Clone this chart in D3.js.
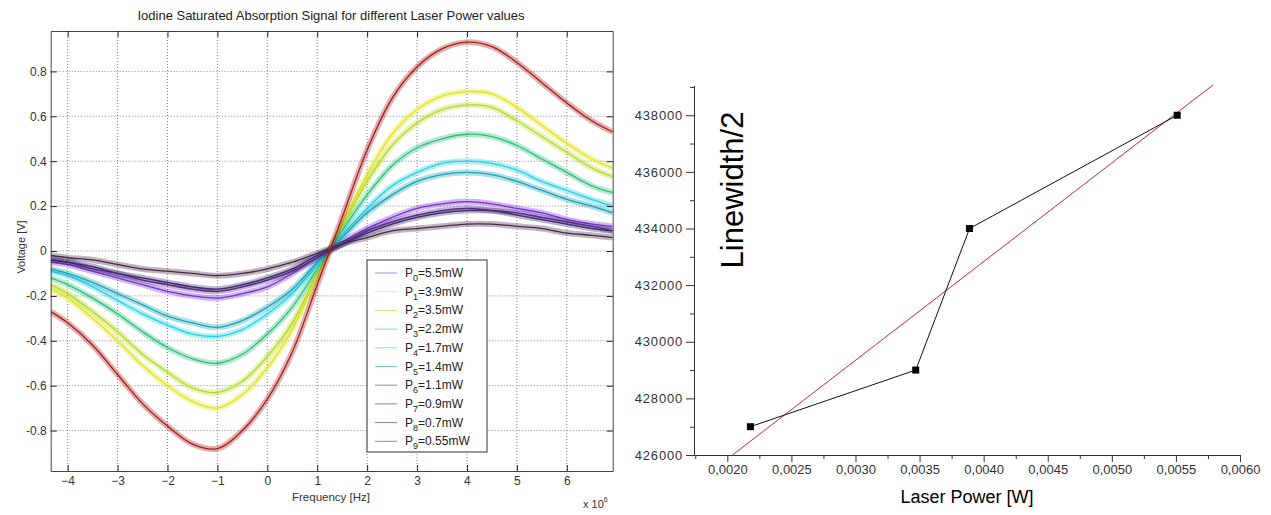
<!DOCTYPE html>
<html>
<head>
<meta charset="utf-8">
<script src="https://cdn.jsdelivr.net/npm/d3@7"></script>
<style>
  body { margin: 0; background: #fff; }
  text { font-family: "Liberation Sans", Arial, sans-serif; }
</style>
</head>
<body>
<div class="canvas"></div>
<script>
      // ---- left chart data ----
      const freq = [-4.34, -4, -3.5, -3, -2.5, -2, -1.5, -1, -0.5, 0, 0.5, 1, 1.5, 2, 2.5, 3, 3.5, 4, 4.5, 5, 5.5, 6, 6.5, 6.92];
      const p0 = [-0.05, -0.06, -0.09, -0.12, -0.15, -0.18, -0.20, -0.21, -0.19, -0.16, -0.10, -0.03, 0.04, 0.10, 0.15, 0.19, 0.21, 0.22, 0.21, 0.19, 0.17, 0.14, 0.12, 0.11];
      const p1 = [-0.17, -0.21, -0.30, -0.40, -0.51, -0.60, -0.67, -0.70, -0.64, -0.52, -0.35, -0.11, 0.12, 0.34, 0.52, 0.63, 0.69, 0.71, 0.70, 0.64, 0.56, 0.48, 0.41, 0.37];
      const p2 = [-0.15, -0.19, -0.27, -0.36, -0.46, -0.54, -0.61, -0.63, -0.58, -0.47, -0.32, -0.10, 0.11, 0.31, 0.47, 0.57, 0.63, 0.65, 0.64, 0.58, 0.51, 0.44, 0.37, 0.33];
      const p3 = [-0.12, -0.15, -0.21, -0.28, -0.36, -0.43, -0.48, -0.50, -0.46, -0.37, -0.25, -0.08, 0.09, 0.25, 0.38, 0.46, 0.50, 0.52, 0.51, 0.47, 0.41, 0.35, 0.29, 0.26];
      const p4 = [-0.09, -0.11, -0.16, -0.22, -0.28, -0.33, -0.37, -0.38, -0.35, -0.28, -0.19, -0.06, 0.07, 0.19, 0.29, 0.35, 0.39, 0.40, 0.39, 0.36, 0.31, 0.27, 0.23, 0.20];
      const p5 = [-0.08, -0.10, -0.14, -0.19, -0.24, -0.29, -0.32, -0.34, -0.31, -0.25, -0.17, -0.05, 0.06, 0.17, 0.25, 0.31, 0.34, 0.35, 0.34, 0.31, 0.27, 0.23, 0.20, 0.17];
      const p6 = [-0.04, -0.05, -0.08, -0.10, -0.13, -0.15, -0.17, -0.18, -0.16, -0.13, -0.09, -0.03, 0.03, 0.09, 0.13, 0.16, 0.18, 0.19, 0.18, 0.17, 0.15, 0.13, 0.11, 0.09];
      const p7 = [-0.02, -0.03, -0.04, -0.06, -0.08, -0.09, -0.10, -0.11, -0.10, -0.08, -0.05, -0.01, 0.03, 0.06, 0.09, 0.10, 0.11, 0.12, 0.12, 0.11, 0.10, 0.08, 0.07, 0.06];
      const p8 = [-0.04, -0.05, -0.07, -0.10, -0.12, -0.14, -0.16, -0.17, -0.15, -0.12, -0.08, -0.02, 0.03, 0.08, 0.12, 0.15, 0.17, 0.18, 0.18, 0.16, 0.14, 0.12, 0.10, 0.09];
      const p9 = [-0.27, -0.32, -0.42, -0.55, -0.68, -0.78, -0.86, -0.88, -0.80, -0.66, -0.45, -0.15, 0.15, 0.45, 0.68, 0.82, 0.90, 0.93, 0.91, 0.84, 0.75, 0.66, 0.58, 0.53];
      const legendLabels = ['5.5mW', '3.9mW', '3.5mW', '2.2mW', '1.7mW', '1.4mW', '1.1mW', '0.9mW', '0.7mW', '0.55mW'];
      const freqTicks = [-4, -3, -2, -1, 0, 1, 2, 3, 4, 5, 6];
      const voltTicks = [-0.8, -0.6, -0.4, -0.2, 0, 0.2, 0.4, 0.6, 0.8];

      // ---- right chart data ----
      const powerW = [0.00218, 0.00347, 0.00389, 0.00551];
      const halfWidth = [427000, 429000, 434000, 438000];
      const fitPower = [0.00204, 0.00579];
      const fitWidth = [426000, 439070];
      const powerTicks = [0.0020, 0.0025, 0.0030, 0.0035, 0.0040, 0.0045, 0.0050, 0.0055, 0.0060];
      const powerMinor = [0.00175, 0.00225, 0.00275, 0.00325, 0.00375, 0.00425, 0.00475, 0.00525, 0.00575];
      const widthTicks = [426000, 428000, 430000, 432000, 434000, 436000, 438000];
      const widthMinor = [427000, 429000, 431000, 433000, 435000, 437000, 439000];

      const series = [p0, p1, p2, p3, p4, p5, p6, p7, p8, p9];
      const colors = ['#7a2fd6', '#e3e31c', '#b3da22', '#2dbf7a', '#26d2e6', '#1aa3b6', '#5c2d8e', '#4a2a48', '#3e2c70', '#a81c1c'];

      const svg = d3.select('.canvas')
        .append('svg')
        .attr('width', 1271)
        .attr('height', 515)
        .style('background', '#fff');

      // ================= left chart =================
      const x = d3.scaleLinear().domain([-4.34, 6.92]).range([50.7, 612.7]);
      const y = d3.scaleLinear().domain([-0.98, 0.98]).range([471, 31]);

      const left = svg.append('g');

      // dotted grid
      left.selectAll('.vgrid')
        .data(freqTicks)
        .enter().append('line')
          .attr('x1', d => x(d)).attr('x2', d => x(d))
          .attr('y1', 31).attr('y2', 471)
          .attr('stroke', '#555').attr('stroke-width', 1)
          .attr('stroke-dasharray', '1,2').attr('opacity', 0.7);

      left.selectAll('.hgrid')
        .data(voltTicks)
        .enter().append('line')
          .attr('x1', 50.7).attr('x2', 612.7)
          .attr('y1', d => y(d)).attr('y2', d => y(d))
          .attr('stroke', '#555').attr('stroke-width', 1)
          .attr('stroke-dasharray', '1,2').attr('opacity', 0.7);

      left.append('clipPath').attr('id', 'clipL')
        .append('rect').attr('x', 50.7).attr('y', 31).attr('width', 562).attr('height', 440);

      const line = d3.line()
        .x((d, i) => x(freq[i]))
        .y(d => y(d))
        .curve(d3.curveCatmullRom);

      const traces = left.append('g').attr('clip-path', 'url(#clipL)');

      // noisy band + centre trace
      series.forEach((s, i) => {
        traces.append('path')
          .attr('d', line(s))
          .attr('fill', 'none')
          .attr('stroke', colors[i])
          .attr('stroke-width', 6)
          .attr('opacity', 0.35);
        traces.append('path')
          .attr('d', line(s))
          .attr('fill', 'none')
          .attr('stroke', colors[i])
          .attr('stroke-width', 1.3);
      });

      // axes (inner ticks, boxed)
      const axisStyle = g => {
        g.select('.domain').attr('stroke', '#444');
        g.selectAll('.tick line').attr('stroke', '#222');
        g.selectAll('text').attr('font-size', 12).attr('fill', '#333')
          .attr('font-family', '"Liberation Sans", Arial, sans-serif');
      };

      left.append('g')
        .attr('transform', 'translate(0,471)')
        .call(d3.axisBottom(x).tickValues(freqTicks).tickSizeInner(-6).tickSizeOuter(0).tickPadding(5))
        .call(axisStyle);

      left.append('g')
        .attr('transform', 'translate(0,31)')
        .call(d3.axisTop(x).tickValues(freqTicks).tickSizeInner(-6).tickSizeOuter(0).tickFormat(''))
        .call(axisStyle);

      left.append('g')
        .attr('transform', 'translate(50.7,0)')
        .call(d3.axisLeft(y).tickValues(voltTicks).tickSizeInner(-6).tickSizeOuter(0).tickPadding(4)
          .tickFormat(d => d === 0 ? '0' : d3.format('.1f')(d).replace('−', '-')))
        .call(axisStyle);

      left.append('g')
        .attr('transform', 'translate(612.7,0)')
        .call(d3.axisRight(y).tickValues(voltTicks).tickSizeInner(-6).tickSizeOuter(0).tickFormat(''))
        .call(axisStyle);

      // titles
      left.append('text')
        .attr('x', 331).attr('y', 20)
        .attr('text-anchor', 'middle')
        .attr('font-size', 13).attr('fill', '#222')
        .text('Iodine Saturated Absorption Signal for different Laser Power values');

      left.append('text')
        .attr('x', 331).attr('y', 501)
        .attr('text-anchor', 'middle')
        .attr('font-size', 11.5).attr('fill', '#333')
        .text('Frequency [Hz]');

      left.append('text')
        .attr('transform', 'translate(25,247) rotate(-90)')
        .attr('text-anchor', 'middle')
        .attr('font-size', 11).attr('fill', '#333')
        .text('Voltage [V]');

      const exp = left.append('text')
        .attr('x', 583).attr('y', 508)
        .attr('font-size', 11).attr('fill', '#333');
      exp.append('tspan').text('x 10');
      exp.append('tspan').attr('font-size', 7).attr('dy', -6).text('6');

      // legend
      const legend = left.append('g');
      legend.append('rect')
        .attr('x', 367).attr('y', 260)
        .attr('width', 120).attr('height', 192)
        .attr('fill', '#fff').attr('stroke', '#333').attr('stroke-width', 1);

      const rows = legend.selectAll('.row')
        .data(legendLabels)
        .enter().append('g')
          .attr('transform', (d, i) => `translate(0, ${273 + i * 18.7})`);

      rows.append('line')
        .attr('x1', 375).attr('x2', 397)
        .attr('y1', 0).attr('y2', 0)
        .attr('stroke', (d, i) => colors[i])
        .attr('stroke-width', 1)
        .attr('opacity', 0.6);

      const lt = rows.append('text')
        .attr('x', 405).attr('y', 4)
        .attr('font-size', 12).attr('fill', '#222');
      lt.append('tspan').text('P');
      lt.append('tspan').attr('font-size', 9).attr('dy', 4).text((d, i) => i);
      lt.append('tspan').attr('dy', -4).text(d => '=' + d);

      // ================= right chart =================
      const x2 = d3.scaleLinear().domain([0.00174, 0.0060]).range([694, 1240]);
      const y2 = d3.scaleLinear().domain([426000, 439050]).range([455, 85.5]);

      const right = svg.append('g');

      const axisStyle2 = g => {
        g.select('.domain').attr('stroke', '#333');
        g.selectAll('.tick line').attr('stroke', '#333');
        g.selectAll('text').attr('font-size', 13).attr('fill', '#333')
          .attr('font-family', '"Liberation Sans", Arial, sans-serif');
      };

      right.append('g')
        .attr('transform', 'translate(0,455)')
        .call(d3.axisBottom(x2).tickValues(powerTicks).tickSizeInner(7).tickSizeOuter(0).tickPadding(3)
          .tickFormat(d => d3.format('.4f')(d).replace('.', ',')))
        .call(axisStyle2);

      right.append('g')
        .attr('transform', 'translate(0,455)')
        .call(d3.axisBottom(x2).tickValues(powerMinor).tickSizeInner(4).tickSizeOuter(0).tickFormat(''))
        .call(axisStyle2);

      right.append('g')
        .attr('transform', 'translate(694,0)')
        .call(d3.axisLeft(y2).tickValues(widthTicks).tickSizeInner(8).tickSizeOuter(0).tickPadding(3)
          .tickFormat(d3.format('d')))
        .call(axisStyle2)
        .call(g => g.selectAll('text').attr('letter-spacing', 0.8));

      right.append('g')
        .attr('transform', 'translate(694,0)')
        .call(d3.axisLeft(y2).tickValues(widthMinor).tickSizeInner(4).tickSizeOuter(0).tickFormat(''))
        .call(axisStyle2);

      // linear fit
      right.append('line')
        .attr('x1', x2(fitPower[0])).attr('y1', y2(fitWidth[0]))
        .attr('x2', x2(fitPower[1])).attr('y2', y2(fitWidth[1]))
        .attr('stroke', '#d0282a').attr('stroke-width', 1);

      // measured points
      const pts = powerW.map((p, i) => ({ p: p, w: halfWidth[i] }));

      right.append('path')
        .datum(pts)
        .attr('fill', 'none')
        .attr('stroke', '#111')
        .attr('stroke-width', 1)
        .attr('d', d3.line().x(d => x2(d.p)).y(d => y2(d.w)));

      right.selectAll('.pt')
        .data(pts)
        .enter().append('rect')
          .attr('x', d => x2(d.p) - 3.5)
          .attr('y', d => y2(d.w) - 3.5)
          .attr('width', 7).attr('height', 7)
          .attr('fill', '#000');

      right.append('text')
        .attr('x', 967).attr('y', 503)
        .attr('text-anchor', 'middle')
        .attr('font-size', 18).attr('fill', '#000')
        .text('Laser Power [W]');

      right.append('text')
        .attr('transform', 'translate(743,190) rotate(-90)')
        .attr('text-anchor', 'middle')
        .attr('font-size', 31).attr('fill', '#000')
        .text('Linewidth/2');
</script>
</body>
</html>
